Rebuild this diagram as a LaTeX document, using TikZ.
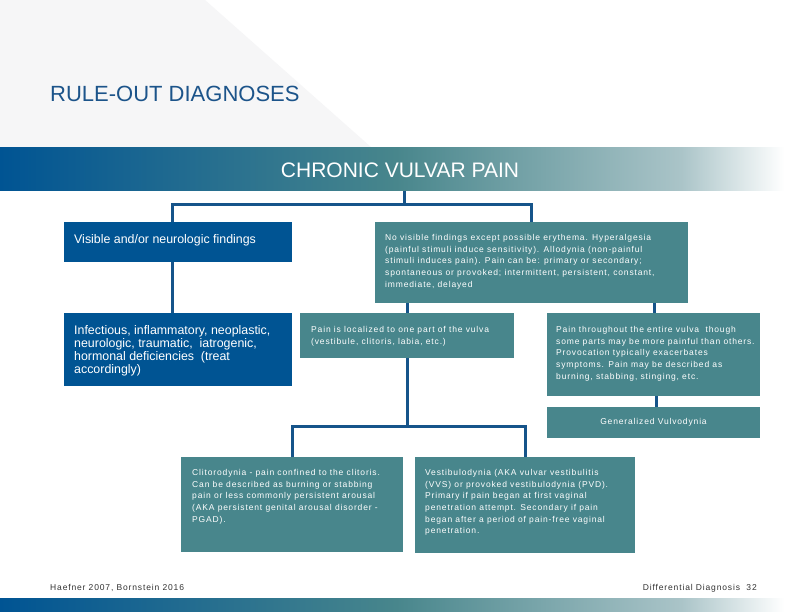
\documentclass[tikz,border=0pt]{standalone}
\usepackage{fontspec}
\setmainfont{Liberation Sans}
\newfontfamily\spacedfont[LetterSpace=10]{Liberation Sans}
\definecolor{boxblue}{RGB}{0,84,147}
\definecolor{boxteal}{RGB}{72,134,140}
\definecolor{connblue}{RGB}{22,84,138}
\definecolor{titleblue}{RGB}{28,84,138}
\definecolor{barteal}{RGB}{72,134,140}
\definecolor{barlight}{RGB}{170,196,200}
\definecolor{facet}{RGB}{246,246,247}
\definecolor{footgray}{RGB}{50,50,50}
\pgfdeclarehorizontalshading{barshade}{100bp}{color(0bp)=(boxblue); color(25bp)=(boxblue); color(50bp)=(barteal); color(68bp)=(barlight); color(74.5bp)=(white); color(100bp)=(white)}
\begin{document}
\begin{tikzpicture}[x=1pt,y=-1pt,
  boxnode/.style={draw=none, inner sep=0pt, outer sep=0pt, anchor=north west},
  bluebox/.style={boxnode, fill=boxblue},
  tealbox/.style={boxnode, fill=boxteal},
  smalltext/.style={font=\spacedfont\fontsize{8.5}{11.7}\selectfont, text=white, inner sep=0pt, anchor=north west, align=left},
  bigtext/.style={font=\fontsize{12.4}{13}\selectfont, text=white, inner sep=0pt, anchor=north west, align=left},
  foottext/.style={font=\spacedfont\fontsize{8.5}{10}\selectfont, text=footgray, inner sep=0pt},
  conn/.style={draw=connblue, line width=3pt}]
\useasboundingbox (0,0) rectangle (792,612);
\fill[white] (0,0) rectangle (792,612);
\fill[facet] (0,0) -- (205,0) -- (372,148) -- (0,148) -- cycle;

% title
\node[font=\fontsize{22}{26}\selectfont, text=titleblue, anchor=base west, inner sep=0pt] (title) at (50,102) {RULE-OUT DIAGNOSES};

% top bar
\node[boxnode, shade, shading=barshade, minimum width=792pt, minimum height=43pt] (T) at (0,148) {};
\node[font=\fontsize{21}{24}\selectfont, text=white, anchor=base, inner sep=0pt] (Tt) at (400,178) {CHRONIC VULVAR PAIN};

% boxes
\node[bluebox, minimum width=228pt, minimum height=40pt] (A) at (64,222) {};
\node[bluebox, minimum width=228pt, minimum height=73pt] (C) at (64,313) {};
\node[tealbox, minimum width=313pt, minimum height=81pt] (B) at (375,222) {};
\node[tealbox, minimum width=214pt, minimum height=45pt] (D) at (300,313) {};
\node[tealbox, minimum width=213pt, minimum height=83pt] (E) at (547,313) {};
\node[tealbox, minimum width=213pt, minimum height=31pt, font=\spacedfont\fontsize{8.5}{10}\selectfont, text=white] (F) at (547,407) {Generalized Vulvodynia};
\node[tealbox, minimum width=222pt, minimum height=95pt] (G) at (181,457) {};
\node[tealbox, minimum width=220pt, minimum height=96pt] (H) at (415,457) {};

% texts
\node[font=\fontsize{12.4}{13}\selectfont, text=white, inner sep=0pt, anchor=base west] (At) at (74,244) {Visible and/or neurologic findings};
\node[bigtext] (Ct) at (74,325) {Infectious, inflammatory, neoplastic,\\neurologic, traumatic,\ \ iatrogenic,\\hormonal deficiencies\ \ (treat\\accordingly)};
\node[smalltext] (Bt) at (385,234) {No visible findings except possible erythema. Hyperalgesia\\(painful stimuli induce sensitivity). Allodynia (non-painful\\stimuli induces pain). Pain can be: primary or secondary;\\spontaneous or provoked; intermittent, persistent, constant,\\immediate, delayed};
\node[smalltext] (Dt) at (311,326) {Pain is localized to one part of the vulva\\(vestibule, clitoris, labia, etc.)};
\node[smalltext] (Et) at (556,326) {Pain throughout the entire vulva\ \ though\\some parts may be more painful than others.\\Provocation typically exacerbates\\symptoms. Pain may be described as\\burning, stabbing, stinging, etc.};
\node[smalltext] (Gt) at (192,469) {Clitorodynia - pain confined to the clitoris.\\Can be described as burning or stabbing\\pain or less commonly persistent arousal\\(AKA persistent genital arousal disorder -\\PGAD).};
\node[smalltext] (Ht) at (425,469) {Vestibulodynia (AKA vulvar vestibulitis\\(VVS) or provoked vestibulodynia (PVD).\\Primary if pain began at first vaginal\\penetration attempt. Secondary if pain\\began after a period of pain-free vaginal\\penetration.};

% connectors
\coordinate (jt) at (404,205);
\coordinate (ja) at (172,205);
\coordinate (jb) at (531,205);
\draw[conn] (T.south -| jt) -- (jt);
\draw[conn] (A.north -| ja) -- (ja) -- (jb) -- (B.north -| jb);
\draw[conn] (A.south -| ja) -- (C.north -| ja);
\coordinate (jd) at (407,303);
\coordinate (je) at (654,303);
\draw[conn] (B.south -| jd) -- (D.north -| jd);
\draw[conn] (B.south -| je) -- (E.north -| je);
\coordinate (jf) at (656,396);
\draw[conn] (E.south -| jf) -- (F.north -| jf);
\coordinate (jm) at (407,426);
\coordinate (jg) at (292,426);
\coordinate (jh) at (525,426);
\draw[conn] (D.south -| jm) -- (jm);
\draw[conn] (G.north -| jg) -- (jg) -- (jh) -- (H.north -| jh);

% footer
\node[foottext, anchor=base west] (ref) at (50,590) {Haefner 2007, Bornstein 2016};
\node[foottext, anchor=base east] (pg) at (757,590) {Differential Diagnosis\ \ 32};
\shade[shading=barshade] (0,598) rectangle (792,612);
\end{tikzpicture}
\end{document}
